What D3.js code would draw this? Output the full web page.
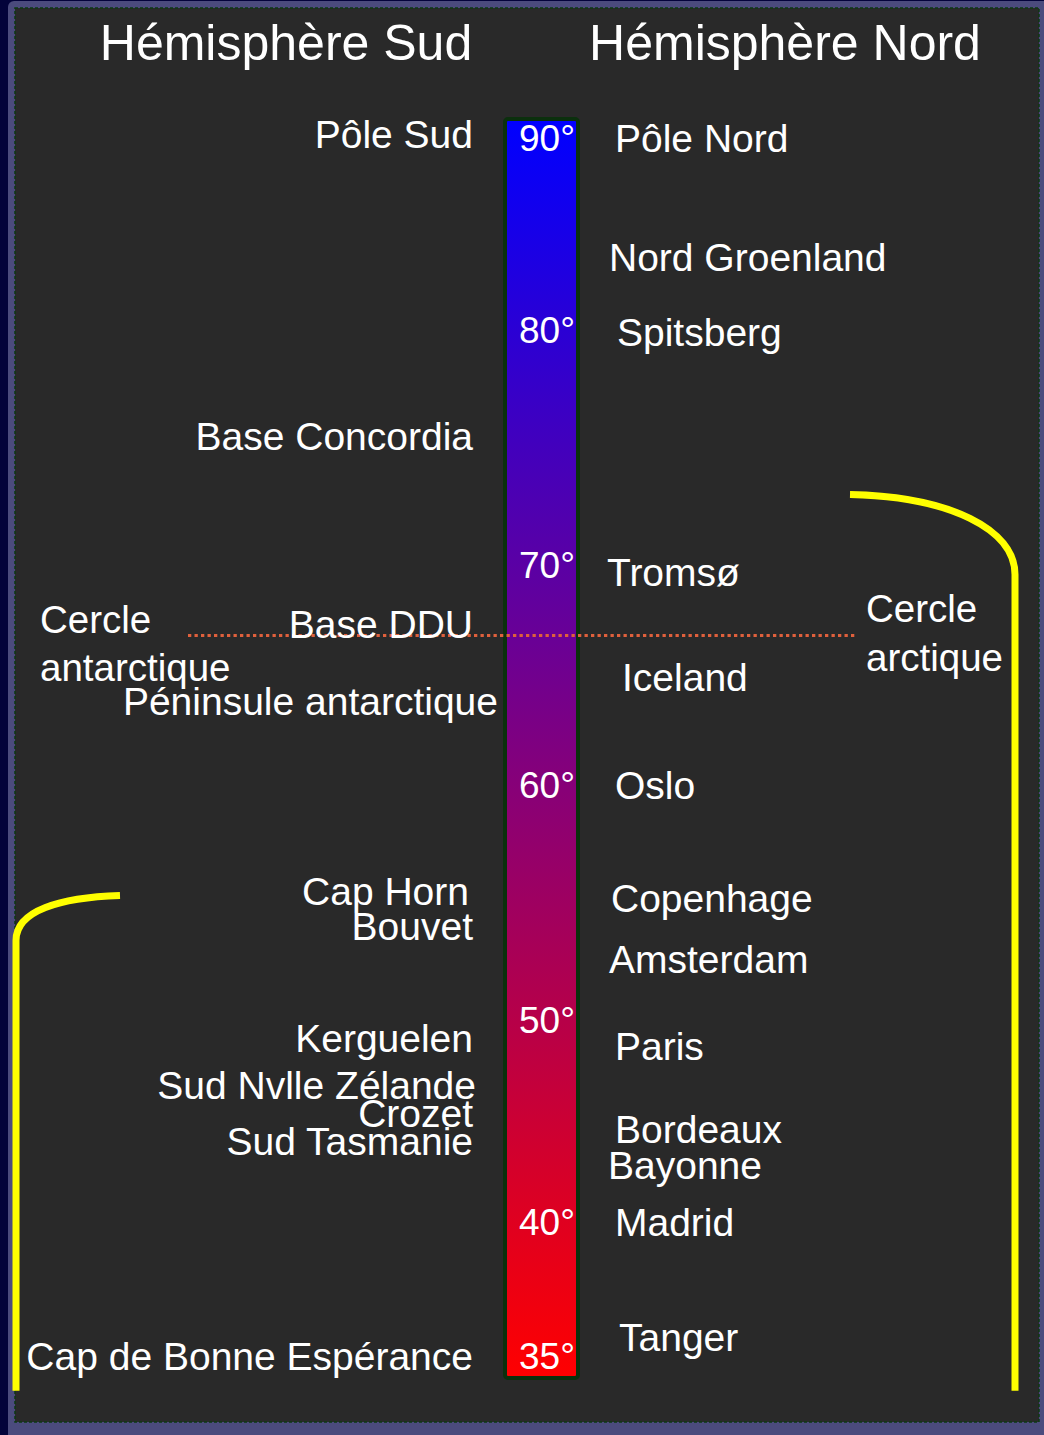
<!DOCTYPE html>
<html>
<head>
<meta charset="utf-8">
<script src="https://d3js.org/d3.v7.min.js"></script>
<style>
  html, body { margin: 0; padding: 0; background: #03033a; }
  svg { display: block; }
  text { font-family: "Liberation Sans", Arial, sans-serif; fill: #ffffff; }
</style>
</head>
<body>
<svg class="chart" width="1044" height="1435"></svg>
<script>
// latitude ticks on the bar
var ticks = [90, 80, 70, 60, 50, 40, 35];
var tickLabels = ["90°", "80°", "70°", "60°", "50°", "40°", "35°"];

// northern hemisphere places and latitudes
var northNames = ["Pôle Nord", "Nord Groenland", "Spitsberg", "Tromsø", "Iceland", "Oslo",
  "Copenhage", "Amsterdam", "Paris", "Bordeaux", "Bayonne", "Madrid", "Tanger"];
var northLat = [90, 83.8, 79.9, 69.7, 64.9, 60, 55.2, 52.6, 48.7, 44.6, 42.8, 40, 35.7];

// southern hemisphere places
var southNames = ["Pôle Sud", "Base Concordia", "Base DDU", "Péninsule antarctique", "Cap Horn",
  "Bouvet", "Kerguelen", "Sud Nvlle Zélande", "Crozet", "Sud Tasmanie", "Cap de Bonne Espérance"];
var southLat = [90.2, 75.5, 67.3, 63.8, 55.5, 54.0, 49.1, 46.8, 45.4, 44.0, 35];

var polarCircle = 66.8;
// yellow brackets: [top latitude, bottom latitude]
var northBracket = [73.0, 33.7];
var southBracket = [55.3, 33.7];

var titles = ["Hémisphère Sud", "Hémisphère Nord"];

var svg = d3.select(".chart");

// the bar is not evenly spaced, so map the ticks piece by piece
var y = d3.scaleLinear()
  .domain(ticks)
  .range([138, 330, 565, 785, 1020, 1222, 1356]);

// frame
svg.append("rect").attr("x", 8).attr("y", 1).attr("width", 1060).attr("height", 1460)
  .attr("rx", 6).style("fill", "#4b4b7d");
svg.append("rect").attr("x", 15).attr("y", 8).attr("width", 1024).attr("height", 1414)
  .style("fill", "#292929")
  .style("stroke", "#0d3a12").style("stroke-width", 1.5).style("stroke-dasharray", "3,2");

// gradient bar
var defs = svg.append("defs");
var grad = defs.append("linearGradient").attr("id", "latgrad")
  .attr("x1", 0).attr("y1", 0).attr("x2", 0).attr("y2", 1);
grad.append("stop").attr("offset", "0%").attr("stop-color", "#0000ff");
grad.append("stop").attr("offset", "100%").attr("stop-color", "#ff0000");

svg.append("rect")
  .attr("x", 505).attr("y", 119).attr("width", 73).attr("height", 1259)
  .attr("rx", 3)
  .style("fill", "url(#latgrad)")
  .style("stroke", "#0b300d").style("stroke-width", 4);

svg.selectAll(".tick")
  .data(ticks)
  .enter()
  .append("text")
  .attr("class", "tick")
  .attr("x", 547)
  .attr("y", function(d) { return y(d); })
  .attr("dy", "0.36em")
  .attr("text-anchor", "middle")
  .style("font-size", "37px")
  .text(function(d, i) { return tickLabels[i]; });

// polar circle line
svg.append("line")
  .attr("x1", 188).attr("x2", 855)
  .attr("y1", y(polarCircle)).attr("y2", y(polarCircle))
  .style("stroke", "#df603c").style("stroke-width", 3)
  .style("stroke-dasharray", "3.3,3.2");

// titles
svg.selectAll(".title")
  .data(titles)
  .enter()
  .append("text")
  .attr("class", "title")
  .attr("x", function(d, i) { return i === 0 ? 286 : 785; })
  .attr("y", 60)
  .attr("text-anchor", "middle")
  .style("font-size", "50px")
  .text(function(d) { return d; });

// small nudges so labels sit as in the original
var southDx = {"Péninsule antarctique": 25, "Sud Nvlle Zélande": 3, "Cap Horn": -4};
var northDx = {"Tromsø": -8, "Iceland": 7, "Nord Groenland": -6, "Amsterdam": -6, "Bayonne": -7,
  "Copenhage": -4, "Tanger": 4, "Spitsberg": 2};

svg.selectAll(".south")
  .data(southNames)
  .enter()
  .append("text")
  .attr("class", "south")
  .attr("x", function(d) { return 473 + (southDx[d] || 0); })
  .attr("y", function(d, i) { return y(southLat[i]); })
  .attr("dy", "0.36em")
  .attr("text-anchor", "end")
  .style("font-size", "39px")
  .text(function(d) { return d; });

svg.selectAll(".north")
  .data(northNames)
  .enter()
  .append("text")
  .attr("class", "north")
  .attr("x", function(d) { return 615 + (northDx[d] || 0); })
  .attr("y", function(d, i) { return y(northLat[i]); })
  .attr("dy", "0.36em")
  .style("font-size", "39px")
  .text(function(d) { return d; });

// circle names
var ant = svg.append("text").attr("x", 40).attr("y", 633).style("font-size", "38.5px");
ant.append("tspan").attr("x", 40).text("Cercle");
ant.append("tspan").attr("x", 40).attr("dy", 48).text("antarctique");
var arc = svg.append("text").attr("x", 866).attr("y", 622).style("font-size", "38.5px");
arc.append("tspan").attr("x", 866).text("Cercle");
arc.append("tspan").attr("x", 866).attr("dy", 49).text("arctique");

// yellow brackets
var nTop = y(northBracket[0]), nBot = y(northBracket[1]);
svg.append("path")
  .attr("d", "M850," + nTop + " C950," + (nTop + 2) + " 1015," + (nTop + 35) + " 1015," + (nTop + 80) +
    " L1015," + nBot)
  .style("fill", "none").style("stroke", "#ffff00").style("stroke-width", 7);

var sTop = y(southBracket[0]), sBot = y(southBracket[1]);
svg.append("path")
  .attr("d", "M120," + sTop + " C60," + (sTop + 2) + " 16," + (sTop + 15) + " 16," + (sTop + 45) +
    " L16," + sBot)
  .style("fill", "none").style("stroke", "#ffff00").style("stroke-width", 7);
</script>
</body>
</html>
